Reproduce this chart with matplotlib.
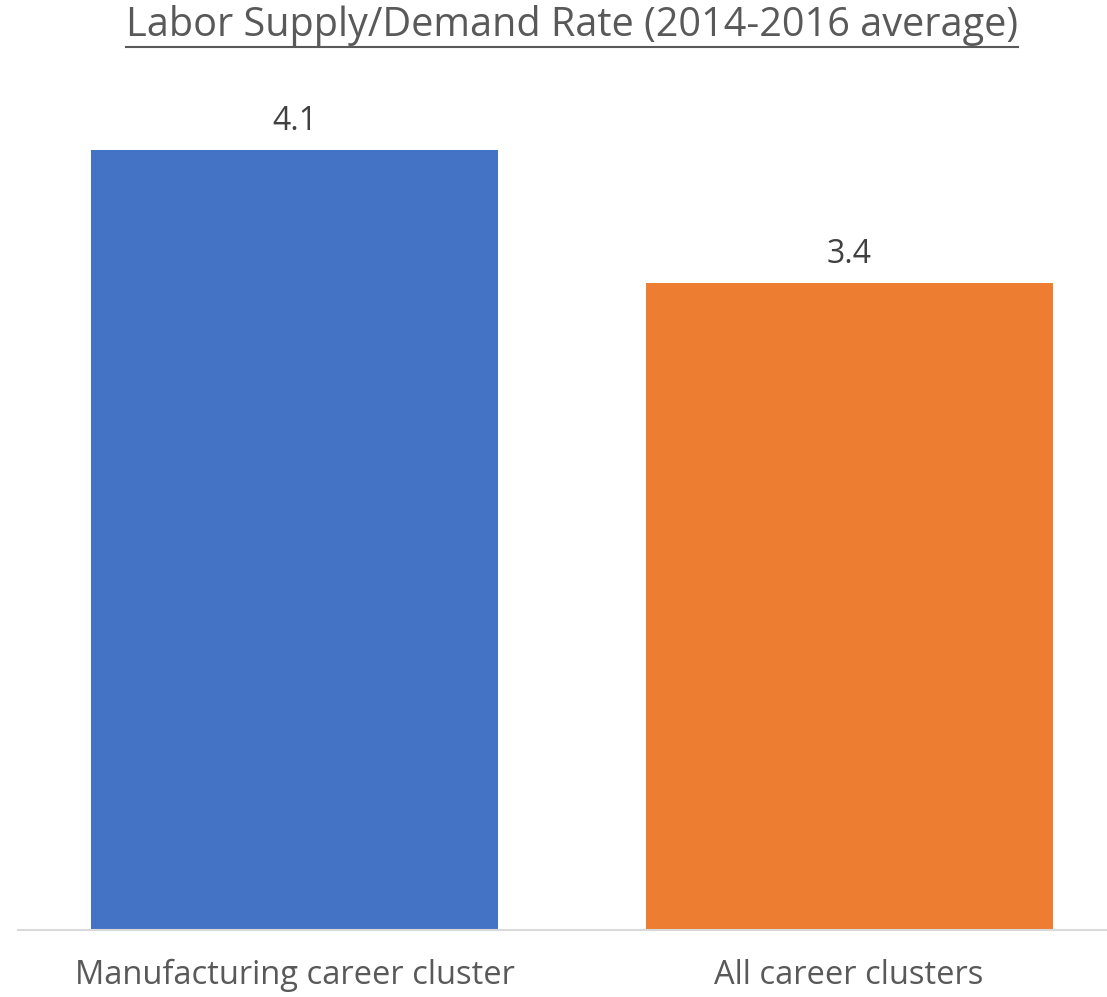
import matplotlib
matplotlib.use("Agg")
import matplotlib.pyplot as plt
from matplotlib.lines import Line2D

categories = ["Manufacturing career cluster", "All career clusters"]
values = [4.1, 3.4]
colors = ["#4472C4", "#ED7D31"]
title = "Labor Supply/Demand Rate (2014-2016 average)"

plt.rcParams['font.family'] = ['Open Sans', 'DejaVu Sans']

W, H = 1107, 997
fig = plt.figure(figsize=(W / 100, H / 100), dpi=100)
ax = fig.add_axes([18 / W, 1 - 930 / H, 1 - 18 / W, 856 / H])

x = range(len(categories))
bars = ax.bar(x, values, width=0.734, color=colors)
for b, v in zip(bars, values):
    ax.text(b.get_x() + b.get_width() / 2, v + 0.065, f"{v:.1f}", ha="center", va="bottom",
            fontsize=23, color="#404040")

ax.set_xlim(-0.4987, 1.465)
ax.set_ylim(0, 4.5)
ax.set_xticks(list(x))
ax.set_xticklabels(categories, fontsize=23.5, color="#595959")
ax.tick_params(axis="x", length=0, pad=21)
ax.set_yticks([])
for s in ["top", "right", "left"]:
    ax.spines[s].set_visible(False)
ax.spines["bottom"].set_color("#d9d9d9")
ax.spines["bottom"].set_linewidth(1.5)

t = fig.text(572 / W, 1 - 26 / H, title, ha="center", va="center", fontsize=28.5, color="#595959")
fig.canvas.draw()
bb = t.get_window_extent(fig.canvas.get_renderer())
uy = (H - 47) / H
fig.add_artist(Line2D([bb.x0 / W, bb.x1 / W], [uy, uy], transform=fig.transFigure,
                      color="#595959", linewidth=1.5))

fig.savefig("out.png", dpi=100)
